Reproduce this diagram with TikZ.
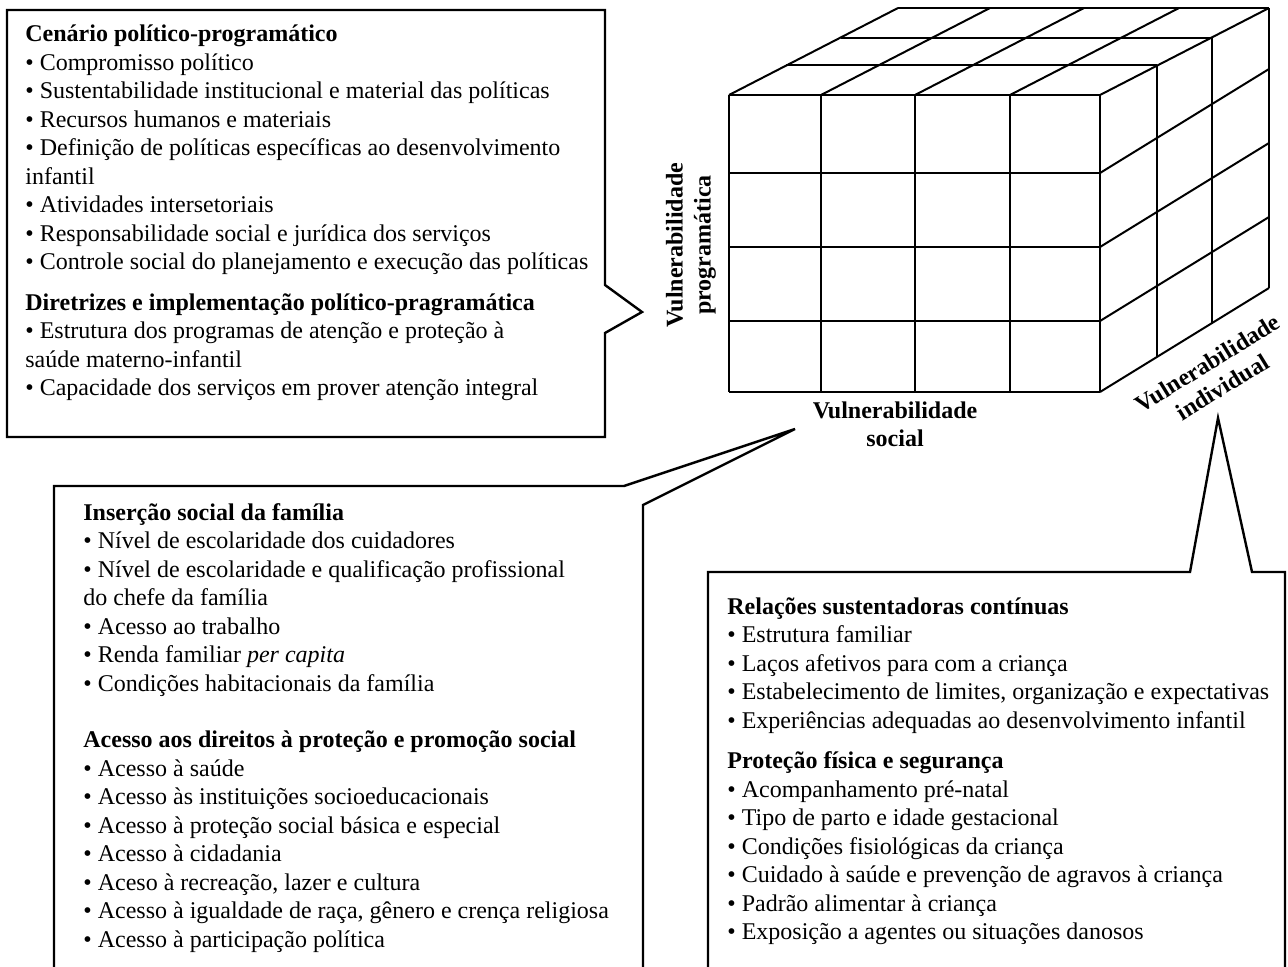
\documentclass[tikz,border=0pt]{standalone}
\usepackage{fontspec}
\setmainfont{Liberation Serif}
\usepackage{tikz}

\begin{document}
\begin{tikzpicture}[x=0.5pt, y=-0.5pt
    , cubeline/.style={line width=1pt}
    , callout/.style={line width=1.2pt, line join=miter}
    , boxtext/.style={anchor=north west, align=left, inner sep=0pt, font=\fontsize{12}{14.25}\selectfont}
    , axislabel/.style={align=center, inner sep=0pt, font=\bfseries\fontsize{12}{14}\selectfont}
    ]
    \useasboundingbox (0,0) rectangle (1288,967);

    % the cube: front face
    \foreach \x in {729,821,915,1010,1100}
      \draw[cubeline] (\x,95) -- (\x,392);
    \foreach \y in {95,173,247,321,392}
      \draw[cubeline] (729,\y) -- (1100,\y);
    % top face
    \foreach \dx/\dy in {57/30,112/57,169/87}
      \draw[cubeline] (729+\dx,95-\dy) -- (1100+\dx,95-\dy);
    \foreach \x in {729,821,915,1010,1100}
      \draw[cubeline] (\x,95) -- ++(169,-87);
    % right face
    \foreach \y in {173,247,321,392}
      \draw[cubeline] (1100,\y) -- ++(169,-104);
    \foreach \dx/\dy/\yb in {57/30/357,112/57/323,169/87/288}
      \draw[cubeline] (1100+\dx,95-\dy) -- (1100+\dx,\yb);

    % axis labels
    \node[axislabel, rotate=90] (eixoprog) at (691,245) {Vulnerabilidade\\programática};
    \node[axislabel] (eixosocial) at (895,424) {Vulnerabilidade\\social};
    \node[axislabel, rotate=31.6] (eixoind) at (1215,375) {Vulnerabilidade\\individual};

    % callouts
    \draw[callout] (7,10) -- (605,10) -- (605,285) -- (642,312) -- (605,333)
      -- (605,437) -- (7,437) -- cycle;
    \draw[callout] (54,967) -- (54,486) -- (624,486) -- (795,429) -- (643,505) -- (643,967);
    \draw[callout] (708,967) -- (708,572) -- (1190,572) -- (1218,418) -- (1252,572)
      -- (1285,572) -- (1285,967);

    \node[boxtext] (politico) at (25,24.5) {%
      \textbf{Cenário político-programático}\\
      • Compromisso político\\
      • Sustentabilidade institucional e material das políticas\\
      • Recursos humanos e materiais\\
      • Definição de políticas específicas ao desenvolvimento\\
      infantil\\
      • Atividades intersetoriais\\
      • Responsabilidade social e jurídica dos serviços\\
      • Controle social do planejamento e execução das políticas\\[6pt]
      \textbf{Diretrizes e implementação político-pragramática}\\
      • Estrutura dos programas de atenção e proteção à\\
      saúde materno-infantil\\
      • Capacidade dos serviços em prover atenção integral};

    \node[boxtext] (social) at (83,503) {%
      \textbf{Inserção social da família}\\
      • Nível de escolaridade dos cuidadores\\
      • Nível de escolaridade e qualificação profissional\\
      do chefe da família\\
      • Acesso ao trabalho\\
      • Renda familiar \textit{per capita}\\
      • Condições habitacionais da família\\[14pt]
      \textbf{Acesso aos direitos à proteção e promoção social}\\
      • Acesso à saúde\\
      • Acesso às instituições socioeducacionais\\
      • Acesso à proteção social básica e especial\\
      • Acesso à cidadania\\
      • Aceso à recreação, lazer e cultura\\
      • Acesso à igualdade de raça, gênero e crença religiosa\\
      • Acesso à participação política};

    \node[boxtext] (individual) at (727,597) {%
      \textbf{Relações sustentadoras contínuas}\\
      • Estrutura familiar\\
      • Laços afetivos para com a criança\\
      • Estabelecimento de limites, organização e expectativas\\
      • Experiências adequadas ao desenvolvimento infantil\\[6pt]
      \textbf{Proteção física e segurança}\\
      • Acompanhamento pré-natal\\
      • Tipo de parto e idade gestacional\\
      • Condições fisiológicas da criança\\
      • Cuidado à saúde e prevenção de agravos à criança\\
      • Padrão alimentar à criança\\
      • Exposição a agentes ou situações danosos};
\end{tikzpicture}
\end{document}
